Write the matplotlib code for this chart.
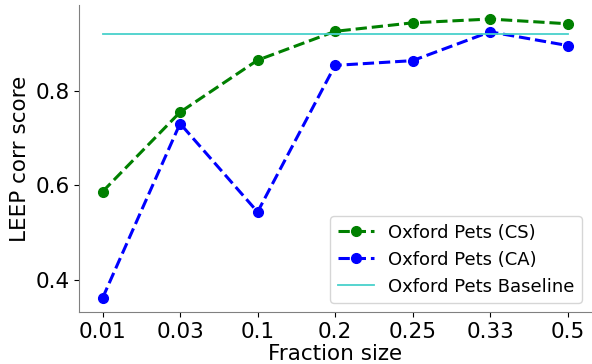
import matplotlib
matplotlib.use('Agg')
import matplotlib.pyplot as plt

# data
fractions = ['0.01', '0.03', '0.1', '0.2', '0.25', '0.33', '0.5']
cs_scores = [0.587, 0.755, 0.865, 0.926, 0.944, 0.952, 0.942]
ca_scores = [0.362, 0.731, 0.544, 0.854, 0.864, 0.925, 0.896]
baseline = 0.921

fig, ax = plt.subplots(figsize=(5.92, 3.64), dpi=100)

x = list(range(len(fractions)))
ax.plot(x, cs_scores, 'go--', linewidth=2.2, markersize=7, label='Oxford Pets (CS)')
ax.plot(x, ca_scores, 'bo--', linewidth=2.2, markersize=7, label='Oxford Pets (CA)')
ax.plot(x, [baseline] * len(x), color='mediumturquoise', linewidth=1.3,
        label='Oxford Pets Baseline')

ax.set_xticks(x)
ax.set_xticklabels(fractions)
ax.set_yticks([0.4, 0.6, 0.8])
ax.tick_params(labelsize=15.5)
ax.set_xlabel('Fraction size', fontsize=15.5, labelpad=2)
ax.set_ylabel('LEEP corr score', fontsize=15.5)

ax.spines['top'].set_visible(False)
ax.spines['right'].set_visible(False)
ax.spines['left'].set_color('grey')
ax.spines['bottom'].set_color('grey')

ax.legend(loc='lower right', fontsize=13)

plt.subplots_adjust(left=0.134, right=0.998, bottom=0.143, top=0.986)
plt.savefig('out.png')
